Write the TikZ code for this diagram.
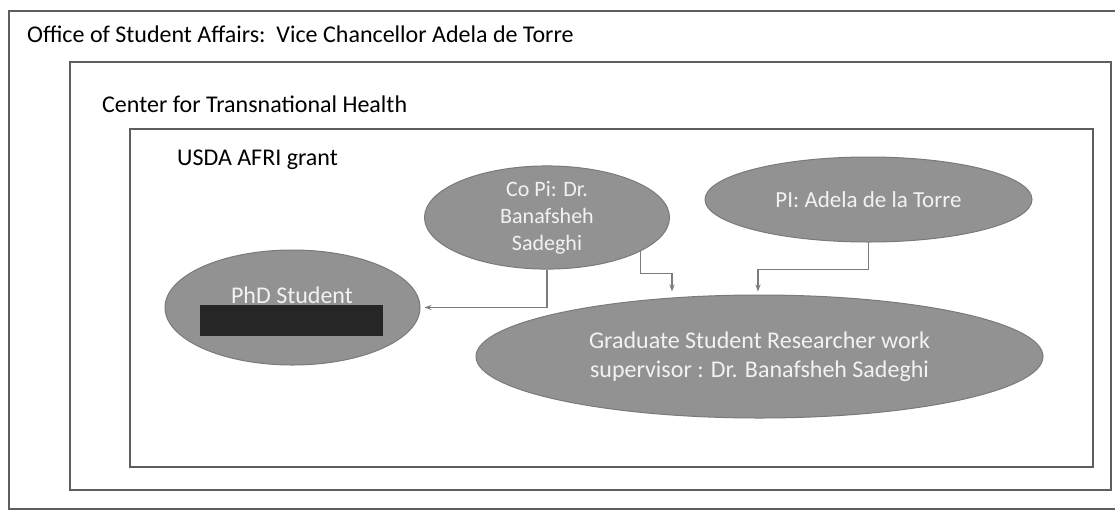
\documentclass[tikz,border=0pt]{standalone}
\usepackage{fontspec}
\setmainfont{Carlito}
\usetikzlibrary{arrows.meta,calc,shapes.geometric}
\definecolor{boxline}{HTML}{5E5E5E}
\definecolor{ellfill}{HTML}{929292}
\definecolor{ellline}{HTML}{7A7A7A}
\definecolor{conn}{HTML}{7C7C7C}
\definecolor{elltext}{HTML}{F2F2F2}
\tikzset{
  frame/.style={draw=boxline, line width=2pt},
  lbl/.style={anchor=west, inner sep=0pt, font=\fontsize{24}{28}\selectfont, text=black},
  oval/.style={ellipse, draw=ellline, line width=1pt, fill=ellfill, inner sep=0pt,
    text=elltext, align=center, font=\fontsize{24}{29}\selectfont},
  link/.style={draw=conn, line width=1.3pt, -{Stealth[length=7pt,width=5pt]}},
}
\begin{document}
\begin{tikzpicture}[x=1pt,y=-1pt]
\useasboundingbox (0,0) rectangle (1115,512);
\begin{scope}
\clip (0,0) rectangle (1115,512);
\draw[frame] (9,11) rectangle (1130,509);
\end{scope}
\draw[frame] (70,62) rectangle (1111,490);
\draw[frame] (130,129) rectangle (1093,467);
\node[lbl] (office) at (27,34) {Office of Student Affairs:\ \ Vice Chancellor Adela de Torre};
\node[lbl] (center) at (102,104) {Center for Transnational Health};
\node[lbl] (usda) at (177,160) {USDA AFRI grant};
\node[oval, minimum width=245pt, minimum height=85pt, font=\fontsize{22}{27}\selectfont] (copi) at (547,217.5) {Co Pi: Dr.\\Banafsheh\\Sadeghi};
\node[oval, minimum width=327pt, minimum height=85pt, font=\fontsize{23}{28}\selectfont] (pi) at (868.5,199.5) {PI: Adela de la Torre};
\node[oval, minimum width=255pt, minimum height=115pt] (phd) at (292.5,307.5) {};
\node[anchor=center, inner sep=0pt, text=elltext, font=\fontsize{24}{28}\selectfont] (phdtxt) at (292,295) {PhD Student};
\node[fill=black!85, minimum width=183pt, minimum height=31pt, inner sep=0pt] (bar) at (291.5,320.5) {};
\node[oval, minimum width=567pt, minimum height=123pt] (grad) at (759.5,356.5) {Graduate Student Researcher work\\supervisor : Dr. Banafsheh Sadeghi};
\draw[link, shorten >=4pt] (copi.south) |- (phd.east);
\draw[link] (copi.-20) -- ++(0,22) -| ($(grad.north)+(-87.5,-3)$);
\draw[link] (pi.south) -- ++(0,27) -| ($(grad.north)+(-1.5,-3)$);
\end{tikzpicture}
\end{document}
